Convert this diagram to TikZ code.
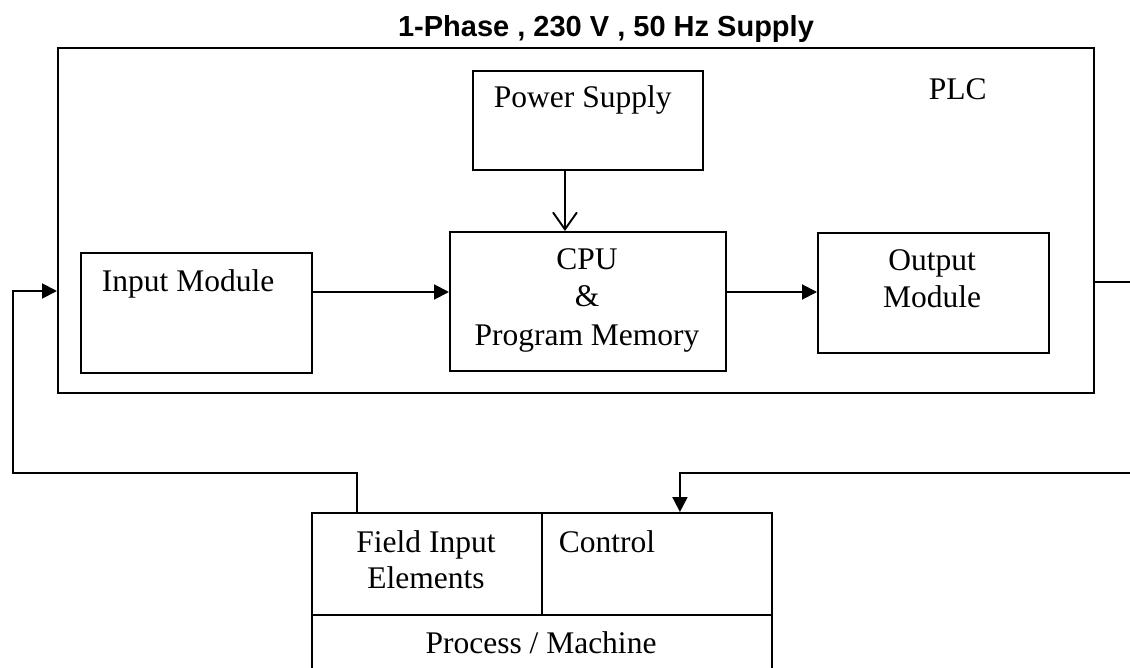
\documentclass[tikz,border=0pt]{standalone}
\usepackage{fontspec}
\setmainfont{Liberation Serif}
\newfontfamily\titlefont{Liberation Sans}
\usetikzlibrary{arrows.meta}
\begin{document}
\begin{tikzpicture}[x=1pt,y=-1pt, line width=1.9pt,
  box/.style={draw, line width=1.9pt, inner sep=0pt, anchor=north west},
  txt/.style={inner sep=0pt, font=\fontsize{31.5}{37}\selectfont},
  farrow/.style={-{Triangle[length=15pt,width=15pt]}},
  varrow/.style={-{Straight Barb[length=17pt,width=24pt]}}]
\useasboundingbox (0,0) rectangle (1130,668);
% boxes
\node[box, minimum width=1036pt, minimum height=345pt] (plc) at (57,47) {};
\node[box, minimum width=231pt, minimum height=120pt] (inmod) at (80,252) {};
\node[box, minimum width=230pt, minimum height=99pt] (psu) at (472,70) {};
\node[box, minimum width=276pt, minimum height=139pt] (cpu) at (449,231) {};
\node[box, minimum width=231pt, minimum height=120pt] (outmod) at (817,232) {};
\node[box, minimum width=230pt, minimum height=102pt] (fie) at (311,512) {};
\node[box, minimum width=230pt, minimum height=102pt] (ctrl) at (541,512) {};
\node[box, minimum width=460pt, minimum height=62pt] (proc) at (311,614) {};
% texts
\node[font=\titlefont\bfseries\fontsize{29}{33}\selectfont, inner sep=0pt, anchor=base] (title) at (606,37) {1-Phase , 230 V , 50 Hz Supply};
\node[txt, anchor=base west] (plcl) at (928,100) {PLC};
\node[txt, anchor=base west] (tps) at (493,108) {Power Supply};
\node[txt, anchor=base west] (tin) at (101,292) {Input Module};
\node[txt, anchor=base] (c1) at (587,270) {CPU};
\node[txt, anchor=base] (c2) at (587,307) {\&};
\node[txt, anchor=base] (c3) at (587,345) {Program Memory};
\node[txt, anchor=base] (o1) at (932,271) {Output};
\node[txt, anchor=base] (o2) at (932,308) {Module};
\node[txt, anchor=base] (f1) at (426,552) {Field Input};
\node[txt, anchor=base] (f2) at (426,588) {Elements};
\node[txt, anchor=base west] (ct) at (558,552) {Control};
\node[txt, anchor=base] (pm) at (541,653) {Process / Machine};
% connectors
\coordinate (y1) at ([yshift=-40pt]inmod.north east);
\draw[farrow] (y1) -- (y1 -| cpu.west);
\coordinate (y2) at ([yshift=-61pt]cpu.north east);
\draw[farrow] (y2) -- (y2 -| outmod.west);
\coordinate (p1) at ([xshift=-23pt]psu.south);
\draw[varrow] (p1) -- (p1 |- cpu.north);
\coordinate (rout) at (1130,282);
\draw (rout -| plc.east) -- (rout);
\coordinate (rin) at (1130,473);
\draw[farrow] (rin) -| ([xshift=23pt]ctrl.north);
\coordinate (fb1) at (13,473);
\coordinate (fb2) at (13,291);
\draw[farrow] ([xshift=-70pt]fie.north) |- (fb1) -- (fb2) -- (fb2 -| plc.west);
\end{tikzpicture}
\end{document}
